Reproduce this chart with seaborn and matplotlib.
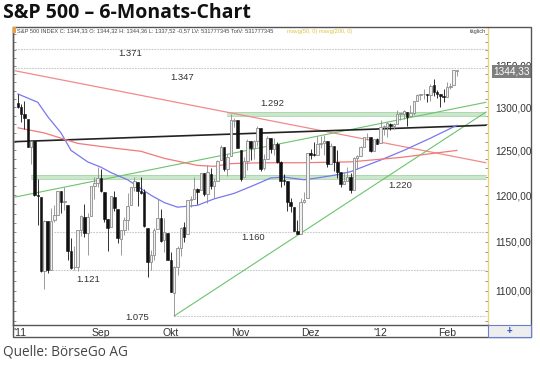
import numpy as np
import pandas as pd
import matplotlib
matplotlib.use("Agg")
import matplotlib.pyplot as plt
import matplotlib.transforms as mtransforms
from matplotlib.patches import Rectangle
from matplotlib.ticker import FixedLocator, FixedFormatter, NullFormatter
import seaborn as sns

sns.set_theme(style="white")
plt.rcParams["font.family"] = ["Liberation Sans", "DejaVu Sans"]

# daily candles, 28 Jul 2011 .. 6 Feb 2012 (x = trading day index)
opens = [1304.8, 1300.1, 1292.6, 1286.6, 1254.3, 1260.2, 1200.3, 1198.5, 1120.2, 1171.8,
         1121.3, 1172.9, 1178.9, 1204.2, 1192.9, 1189.6, 1140.5, 1123.6, 1124.4, 1162.2,
         1176.7, 1158.9, 1177.9, 1209.8, 1213.0, 1219.1, 1203.9, 1174.0, 1165.9, 1198.0,
         1185.4, 1153.5, 1162.6, 1173.3, 1189.4, 1209.2, 1215.0, 1204.5, 1203.6, 1164.6,
         1128.8, 1136.9, 1163.3, 1175.4, 1151.7, 1159.9, 1131.2, 1097.4, 1124.0, 1144.1,
         1166.0, 1158.2, 1194.6, 1196.2, 1207.0, 1205.7, 1224.5, 1200.8, 1223.5, 1209.9,
         1215.4, 1238.7, 1254.2, 1229.2, 1244.0, 1284.4, 1285.0, 1251.0, 1219.6, 1238.3,
         1260.8, 1253.2, 1261.1, 1275.2, 1229.6, 1240.1, 1263.9, 1251.7, 1257.8, 1236.6,
         1216.2, 1215.6, 1193.0, 1187.5, 1161.4, 1158.7, 1192.6, 1196.7, 1246.9, 1246.0,
         1244.3, 1257.2, 1258.1, 1260.9, 1234.5, 1255.1, 1236.8, 1225.7, 1212.1, 1216.1,
         1219.7, 1205.7, 1241.3, 1243.7, 1254.0, 1265.0, 1265.4, 1249.8, 1262.8, 1258.9,
         1277.0, 1277.3, 1280.9, 1277.8, 1280.8, 1292.0, 1292.5, 1294.8, 1290.2, 1293.7,
         1308.1, 1314.5, 1315.3, 1316.0, 1314.4, 1326.3, 1318.3, 1316.2, 1313.5, 1312.5,
         1324.2, 1326.2, 1344.3]
highs = [1316.3, 1304.2, 1307.4, 1286.6, 1261.2, 1260.2, 1218.1, 1198.5, 1172.9, 1171.8,
         1186.3, 1189.0, 1204.5, 1204.2, 1208.5, 1189.6, 1154.5, 1145.5, 1162.4, 1178.6,
         1190.7, 1181.2, 1210.3, 1220.1, 1230.7, 1229.3, 1203.9, 1174.0, 1198.6, 1204.4,
         1185.4, 1162.5, 1176.4, 1202.4, 1209.1, 1220.1, 1215.0, 1220.4, 1206.3, 1164.6,
         1141.7, 1164.2, 1195.9, 1184.7, 1175.1, 1159.9, 1139.0, 1125.1, 1146.1, 1165.6,
         1171.4, 1194.9, 1199.0, 1220.3, 1207.5, 1224.6, 1224.6, 1233.1, 1229.6, 1219.4,
         1239.0, 1256.6, 1254.2, 1246.3, 1292.7, 1287.1, 1285.0, 1251.0, 1242.5, 1263.2,
         1260.8, 1261.7, 1277.6, 1275.2, 1246.2, 1267.0, 1263.9, 1264.3, 1259.6, 1237.7,
         1223.5, 1215.6, 1196.8, 1187.5, 1172.7, 1197.4, 1203.7, 1247.1, 1251.1, 1260.1,
         1266.7, 1266.0, 1267.1, 1260.9, 1258.3, 1255.1, 1249.9, 1225.7, 1225.6, 1231.0,
         1224.6, 1242.8, 1245.1, 1255.2, 1265.4, 1269.4, 1265.9, 1263.5, 1264.1, 1284.6,
         1278.7, 1283.1, 1281.8, 1282.0, 1296.5, 1293.8, 1296.8, 1294.8, 1303.0, 1308.1,
         1315.5, 1315.4, 1322.3, 1316.0, 1328.3, 1333.5, 1320.1, 1316.2, 1321.4, 1330.5,
         1329.2, 1345.1, 1344.4]
lows = [1299.2, 1282.9, 1274.7, 1254.0, 1234.6, 1199.5, 1168.1, 1119.3, 1101.5, 1118.0,
        1121.3, 1170.7, 1178.9, 1180.5, 1184.4, 1131.0, 1122.1, 1121.1, 1120.1, 1156.3,
        1155.5, 1135.9, 1177.9, 1195.8, 1209.4, 1203.9, 1170.6, 1140.1, 1165.9, 1183.3,
        1148.4, 1136.1, 1157.4, 1162.7, 1189.4, 1204.5, 1188.4, 1201.8, 1166.2, 1114.2,
        1121.4, 1131.1, 1163.3, 1150.4, 1139.9, 1131.3, 1098.9, 1074.8, 1115.7, 1135.0,
        1150.3, 1158.2, 1187.3, 1196.2, 1190.6, 1205.7, 1198.6, 1191.5, 1206.3, 1197.3,
        1215.4, 1238.7, 1226.8, 1221.1, 1244.0, 1277.0, 1253.2, 1215.4, 1219.6, 1228.4,
        1238.9, 1240.8, 1255.0, 1226.6, 1227.7, 1240.1, 1246.7, 1244.3, 1235.7, 1209.4,
        1211.4, 1183.2, 1181.7, 1161.8, 1158.7, 1158.7, 1191.8, 1196.7, 1239.7, 1243.4,
        1244.3, 1253.0, 1244.8, 1231.5, 1234.5, 1227.3, 1219.4, 1209.5, 1212.1, 1215.2,
        1202.4, 1205.7, 1229.5, 1243.7, 1254.0, 1262.3, 1248.6, 1249.8, 1257.5, 1258.9,
        1268.1, 1265.3, 1273.3, 1274.6, 1280.8, 1285.4, 1285.8, 1277.6, 1290.2, 1291.0,
        1308.1, 1309.2, 1309.9, 1306.1, 1307.7, 1313.6, 1311.7, 1300.5, 1306.7, 1312.5,
        1321.6, 1326.2, 1337.5]
closes = [1300.7, 1292.3, 1286.9, 1254.1, 1260.3, 1200.1, 1199.4, 1119.5, 1172.5, 1120.8,
          1172.6, 1178.8, 1204.5, 1192.8, 1193.9, 1140.7, 1123.5, 1123.8, 1162.4, 1177.6,
          1159.3, 1176.8, 1210.1, 1212.9, 1218.9, 1204.4, 1174.0, 1165.2, 1198.6, 1185.9,
          1154.2, 1162.3, 1172.9, 1188.7, 1209.1, 1216.0, 1204.1, 1202.1, 1166.8, 1129.6,
          1136.4, 1163.0, 1175.4, 1151.1, 1160.4, 1131.4, 1099.2, 1124.0, 1144.0, 1165.0,
          1155.5, 1194.9, 1195.5, 1207.3, 1203.7, 1224.6, 1200.9, 1225.4, 1209.9, 1215.4,
          1238.3, 1254.2, 1229.1, 1242.0, 1284.6, 1285.1, 1253.3, 1218.3, 1237.9, 1261.2,
          1253.2, 1261.1, 1275.9, 1229.1, 1239.7, 1263.9, 1251.8, 1257.8, 1236.9, 1216.1,
          1215.7, 1193.0, 1188.0, 1161.8, 1158.7, 1192.6, 1195.2, 1247.0, 1244.6, 1244.3,
          1257.1, 1258.5, 1261.0, 1234.4, 1255.2, 1236.5, 1225.7, 1211.8, 1215.8, 1219.7,
          1205.4, 1241.3, 1243.7, 1254.0, 1265.3, 1265.4, 1249.6, 1263.0, 1257.6, 1277.1,
          1277.3, 1281.1, 1277.8, 1280.7, 1292.1, 1292.5, 1295.5, 1289.1, 1293.7, 1308.0,
          1314.5, 1315.4, 1316.0, 1314.7, 1326.1, 1318.4, 1316.3, 1313.0, 1312.4, 1324.1,
          1325.5, 1344.9, 1344.3]

# moving averages
ma50_x = [0, 6, 9, 13, 16, 21, 25, 28, 33, 40, 44, 48, 54, 59, 65, 71, 76, 80, 86, 90,
          95, 100, 109, 116, 124, 132]
ma50_y = [1316, 1306, 1289, 1270, 1250, 1237, 1231, 1225, 1217, 1200, 1192, 1187, 1189,
          1196, 1202, 1211, 1219, 1220, 1217, 1219, 1222, 1226, 1239, 1250, 1264, 1279]
ma200_x = [0, 8, 18, 28, 37, 44, 49, 54, 59, 64, 73, 85, 100, 115, 132]
ma200_y = [1276, 1270, 1258, 1253, 1249, 1241, 1237, 1233, 1232, 1235, 1236, 1236, 1237,
           1242, 1250]

# trend lines (start/end)
red_trend = ([-0.8, 140.7], [1344, 1236])
black_trend = ([-0.8, 140.7], [1260, 1279])
green_trend1 = ([-0.8, 140.7], [1198, 1306])
green_trend2 = ([47, 140.7], [1075, 1294.5])

# horizontal levels: value, first day, label
levels = [1371, 1347, 1160, 1121, 1075]
level_start = [-0.8, -0.8, 11, 8, 47]
bands = [1292, 1220]
band_start = [63, 4]
level_labels = ["1.371", "1.347", "1.292", "1.220", "1.160", "1.121", "1.075"]

y_ticks = [1100, 1150, 1200, 1250, 1300, 1350]
y_labels = ["1100,00", "1150,00", "1200,00", "1250,00", "1300,00", "1350,00"]
month_pos = [0.6, 25, 46, 67, 88, 109, 129]
month_lbl = ["'11", "Sep", "Okt", "Nov", "Dez", "'12", "Feb"]

W, H = 540, 365


def fx(x):
    return x / W


def fy(y):
    return 1 - y / H


fig = plt.figure(figsize=(5.4, 3.65), dpi=100)
fig.patch.set_facecolor("white")
ax = fig.add_axes([fx(13), fy(325), fx(488) - fx(13), fy(27) - fy(325)])
ax.set_facecolor("white")
ax.set_yscale("log")
ax.set_xlim(-1.44, 141.3)
ax.set_ylim(1066.2, 1398.7)
x_end = 140.7

# level lines
for v, s in zip(levels, level_start):
    ax.plot([s, x_end], [v, v], color="#c8c8c8", lw=0.8, ls=(0, (1.5, 1)), zorder=1)
for v, s in zip(bands, band_start):
    ax.fill_between([s, x_end], v * 0.998, v * 1.002, color="#cbe7cb", lw=0, zorder=1)
    ax.plot([s, x_end], [v * 0.998] * 2, color="#a8d5a8", lw=0.6, zorder=1)
    ax.plot([s, x_end], [v * 1.002] * 2, color="#a8d5a8", lw=0.6, zorder=1)

# trend lines
ax.plot(*red_trend, color="#f28a8a", lw=0.9, zorder=2)
ax.plot(*green_trend1, color="#6cc36c", lw=0.8, zorder=2)
ax.plot(*green_trend2, color="#6cc36c", lw=0.8, zorder=2)
ax.plot(*black_trend, color="#222222", lw=1.2, zorder=2)

# moving averages
sns.lineplot(x=ma50_x, y=ma50_y, ax=ax, color="#7878ee", lw=0.9, zorder=2)
sns.lineplot(x=ma200_x, y=ma200_y, ax=ax, color="#f07a7a", lw=0.9, zorder=2)

# candles
df = pd.DataFrame({"o": opens, "h": highs, "l": lows, "c": closes})
df["i"] = np.arange(len(df))
up = df[df.c >= df.o]
dn = df[df.c < df.o]
ax.vlines(up.i, up.l, up.h, color="#8c8c8c", lw=0.6, zorder=3)
ax.vlines(dn.i, dn.l, dn.h, color="#111111", lw=0.6, zorder=3)
ax.bar(up.i, np.maximum(up.c - up.o, 0.8), bottom=up.o, width=0.75,
       facecolor="#f0f0f0", edgecolor="#8c8c8c", lw=0.6, zorder=4)
ax.bar(dn.i, np.maximum(dn.o - dn.c, 0.8), bottom=dn.c, width=0.75,
       facecolor="#111111", edgecolor="#111111", lw=0.4, zorder=4)

# level labels
lab_pos = [(130, 53), (182, 77), (272, 104), (400, 185), (253, 238), (88, 279), (137, 318)]
for t, (px, py) in zip(level_labels, lab_pos):
    fig.text(fx(px), fy(py), t, fontsize=6.8, color="#333333", ha="center", va="center")

# axes styling
ax.spines["top"].set_visible(False)
ax.spines["left"].set_color("#555555")
ax.spines["bottom"].set_color("#555555")
ax.spines["right"].set_color("#ecd27a")
for s in ["left", "bottom", "right"]:
    ax.spines[s].set_linewidth(1)

ax.yaxis.set_major_locator(FixedLocator(y_ticks))
ax.yaxis.set_major_formatter(FixedFormatter(y_labels))
ax.yaxis.set_minor_locator(FixedLocator(list(range(1070, 1400, 10))))
ax.yaxis.set_minor_formatter(NullFormatter())
ax.tick_params(axis="y", which="both", left=True, right=True, direction="in",
               labelleft=False, labelright=True, length=2, width=0.5, color="#666666",
               labelsize=7.2, labelcolor="#333333", pad=5)
ax.set_xticks(month_pos)
ax.set_xticklabels(month_lbl)
ax.tick_params(axis="x", length=0, labelsize=7.5, labelcolor="#333333", pad=2)
ax.grid(False)
ax.set_xlabel("")
ax.set_ylabel("")

# last price box
trans = mtransforms.blended_transform_factory(ax.transAxes, ax.transData)
ax.text(1.012, 1343.0, "1344,33", transform=trans, fontsize=7.2, color="white",
        va="center", ha="left", clip_on=False,
        bbox=dict(boxstyle="square,pad=0.15", fc="#7e7e7e", ec="none"))

# header inside the chart frame
fig.text(fx(17), fy(31), "S&P 500 INDEX C: 1344,33 O: 1344,32 H: 1344,36 L: 1337,52 -0,57 "
         "LV: 531777345 TotV: 531777345", fontsize=4.1, color="#444444", va="center")
fig.text(fx(287), fy(31), "mavg(50, 0) mavg(200, 0)", fontsize=4.1, color="#e0c040", va="center")
fig.text(fx(470), fy(31), "täglich", fontsize=4.1, color="#444444", va="center")

# frame around chart and axis strip
fig.patches.append(Rectangle((fx(531), 0), 1 - fx(531), 1, transform=fig.transFigure,
                             fc="white", ec="none", zorder=10))
fig.patches.append(Rectangle((fx(13), fy(337)), fx(531) - fx(13), fy(27) - fy(337),
                             transform=fig.transFigure, fill=False, ec="#555555", lw=1, zorder=11))
fig.patches.append(Rectangle((fx(488), fy(337)), fx(531) - fx(488), fy(325) - fy(337),
                             transform=fig.transFigure, fc="#eeeeee", ec="#6a7fd0", lw=0.8, zorder=11))
fig.patches.append(Rectangle((fx(13), fy(33)), fx(2.5), fy(27) - fy(33),
                             transform=fig.transFigure, fc="#f0a030", ec="none", zorder=12))
fig.text(fx(509), fy(331), "+", fontsize=7, color="#3050c0", ha="center", va="center",
         weight="bold", zorder=12)

# titles
fig.text(fx(3), fy(13), "S&P 500 – 6-Monats-Chart", fontsize=14, weight="bold",
         family="Open Sans", color="#111111", va="center")
fig.text(fx(3), fy(352), "Quelle: BörseGo AG", fontsize=9.8, family="Open Sans",
         color="#444444", va="center")

fig.savefig("out.png", dpi=100)
